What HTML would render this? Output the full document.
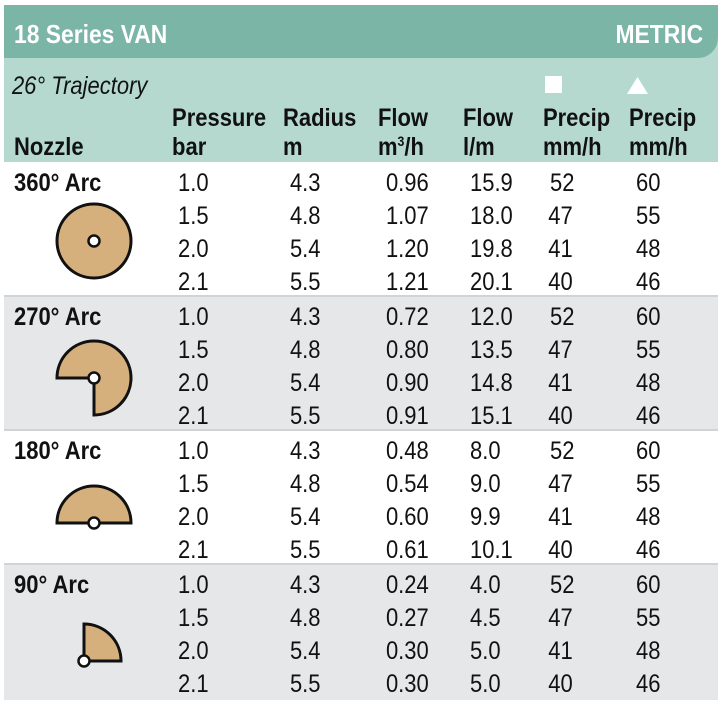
<!DOCTYPE html>
<html><head><meta charset="utf-8"><style>
html,body{margin:0;padding:0;background:#fff;width:723px;height:703px;overflow:hidden}
svg{display:block}
text{font-family:"Liberation Sans",sans-serif;fill:#111}
.h{font-weight:bold;font-size:25px}
.d{font-size:25px}
</style></head><body>
<svg width="723" height="703" viewBox="0 0 723 703">
<rect x="4" y="40" width="714" height="122" fill="#b5d9cf"/>
<path d="M4,5 H718 V38 A20,20 0 0 1 698,58 H4 Z" fill="#7ab5a5"/>
<rect x="4" y="296" width="714" height="134" fill="#e6e7e9"/>
<rect x="4" y="564" width="714" height="136" fill="#e6e7e9"/>
<line x1="4" y1="296" x2="718" y2="296" stroke="#d2d3d5" stroke-width="2"/>
<line x1="4" y1="430" x2="718" y2="430" stroke="#d2d3d5" stroke-width="2"/>
<line x1="4" y1="564" x2="718" y2="564" stroke="#d2d3d5" stroke-width="2"/>
<rect x="545" y="76" width="17" height="17" fill="#fff"/>
<polygon points="627,94 648,94 637.5,77" fill="#fff"/>
<g transform="scale(0.88,1)">
<text x="15.9" y="43" class="h" style="fill:#fff;font-size:26px">18 Series VAN</text>
<text x="799" y="43" class="h" style="fill:#fff;font-size:26px" text-anchor="end">METRIC</text>
<text x="13.6" y="94" style="font-style:italic;font-size:25px">26° Trajectory</text>
<text class="h" y="126"><tspan x="195.5">Pressure</tspan><tspan x="321.6">Radius</tspan><tspan x="429.5">Flow</tspan><tspan x="526.1">Flow</tspan><tspan x="617">Precip</tspan><tspan x="714.8">Precip</tspan></text>
<text class="h" y="155"><tspan x="15.9">Nozzle</tspan><tspan x="195.5">bar</tspan><tspan x="321.6">m</tspan><tspan x="429.5">m<tspan dy="-9" style="font-size:14px">3</tspan><tspan dy="9">/h</tspan></tspan><tspan x="526.1">l/m</tspan><tspan x="617">mm/h</tspan><tspan x="714.8">mm/h</tspan></text>
<text class="h" x="15.9" y="191">360° Arc</text>
<text class="h" x="15.9" y="325">270° Arc</text>
<text class="h" x="15.9" y="459">180° Arc</text>
<text class="h" x="15.9" y="593">90° Arc</text>
<text class="d" y="191"><tspan x="202.3">1.0</tspan><tspan x="329.5">4.3</tspan><tspan x="438.6">0.96</tspan><tspan x="534.1">15.9</tspan><tspan x="625">52</tspan><tspan x="722.7">60</tspan></text>
<text class="d" y="224"><tspan x="202.3">1.5</tspan><tspan x="329.5">4.8</tspan><tspan x="438.6">1.07</tspan><tspan x="534.1">18.0</tspan><tspan x="623">47</tspan><tspan x="722.7">55</tspan></text>
<text class="d" y="257"><tspan x="202.3">2.0</tspan><tspan x="329.5">5.4</tspan><tspan x="438.6">1.20</tspan><tspan x="534.1">19.8</tspan><tspan x="623">41</tspan><tspan x="722.7">48</tspan></text>
<text class="d" y="290"><tspan x="202.3">2.1</tspan><tspan x="329.5">5.5</tspan><tspan x="438.6">1.21</tspan><tspan x="534.1">20.1</tspan><tspan x="623">40</tspan><tspan x="722.7">46</tspan></text>

<text class="d" y="325"><tspan x="202.3">1.0</tspan><tspan x="329.5">4.3</tspan><tspan x="438.6">0.72</tspan><tspan x="534.1">12.0</tspan><tspan x="625">52</tspan><tspan x="722.7">60</tspan></text>
<text class="d" y="358"><tspan x="202.3">1.5</tspan><tspan x="329.5">4.8</tspan><tspan x="438.6">0.80</tspan><tspan x="534.1">13.5</tspan><tspan x="623">47</tspan><tspan x="722.7">55</tspan></text>
<text class="d" y="391"><tspan x="202.3">2.0</tspan><tspan x="329.5">5.4</tspan><tspan x="438.6">0.90</tspan><tspan x="534.1">14.8</tspan><tspan x="623">41</tspan><tspan x="722.7">48</tspan></text>
<text class="d" y="424"><tspan x="202.3">2.1</tspan><tspan x="329.5">5.5</tspan><tspan x="438.6">0.91</tspan><tspan x="534.1">15.1</tspan><tspan x="623">40</tspan><tspan x="722.7">46</tspan></text>

<text class="d" y="459"><tspan x="202.3">1.0</tspan><tspan x="329.5">4.3</tspan><tspan x="438.6">0.48</tspan><tspan x="534.1">8.0</tspan><tspan x="625">52</tspan><tspan x="722.7">60</tspan></text>
<text class="d" y="492"><tspan x="202.3">1.5</tspan><tspan x="329.5">4.8</tspan><tspan x="438.6">0.54</tspan><tspan x="534.1">9.0</tspan><tspan x="623">47</tspan><tspan x="722.7">55</tspan></text>
<text class="d" y="525"><tspan x="202.3">2.0</tspan><tspan x="329.5">5.4</tspan><tspan x="438.6">0.60</tspan><tspan x="534.1">9.9</tspan><tspan x="623">41</tspan><tspan x="722.7">48</tspan></text>
<text class="d" y="558"><tspan x="202.3">2.1</tspan><tspan x="329.5">5.5</tspan><tspan x="438.6">0.61</tspan><tspan x="534.1">10.1</tspan><tspan x="623">40</tspan><tspan x="722.7">46</tspan></text>

<text class="d" y="593"><tspan x="202.3">1.0</tspan><tspan x="329.5">4.3</tspan><tspan x="438.6">0.24</tspan><tspan x="534.1">4.0</tspan><tspan x="625">52</tspan><tspan x="722.7">60</tspan></text>
<text class="d" y="626"><tspan x="202.3">1.5</tspan><tspan x="329.5">4.8</tspan><tspan x="438.6">0.27</tspan><tspan x="534.1">4.5</tspan><tspan x="623">47</tspan><tspan x="722.7">55</tspan></text>
<text class="d" y="659"><tspan x="202.3">2.0</tspan><tspan x="329.5">5.4</tspan><tspan x="438.6">0.30</tspan><tspan x="534.1">5.0</tspan><tspan x="623">41</tspan><tspan x="722.7">48</tspan></text>
<text class="d" y="692"><tspan x="202.3">2.1</tspan><tspan x="329.5">5.5</tspan><tspan x="438.6">0.30</tspan><tspan x="534.1">5.0</tspan><tspan x="623">40</tspan><tspan x="722.7">46</tspan></text>
</g>
<g fill="#d6b07c" stroke="#111" stroke-width="3" stroke-linejoin="miter">
<circle cx="94" cy="241" r="37"/>
<path d="M57,378 L94,378 L94,415 A37,37 0 1 0 57,378 Z"/>
<path d="M57,523 A37,37 0 0 1 131,523 Z"/>
<path d="M84,661 L84,624 A37,37 0 0 1 121,661 Z"/>
</g>
<g fill="#fff" stroke="#111" stroke-width="2.5">
<circle cx="94" cy="241" r="5.5"/>
<circle cx="94" cy="378" r="5.5"/>
<circle cx="94" cy="523" r="5.5"/>
<circle cx="84" cy="661" r="5.5"/>
</g>
</svg>
</body></html>
